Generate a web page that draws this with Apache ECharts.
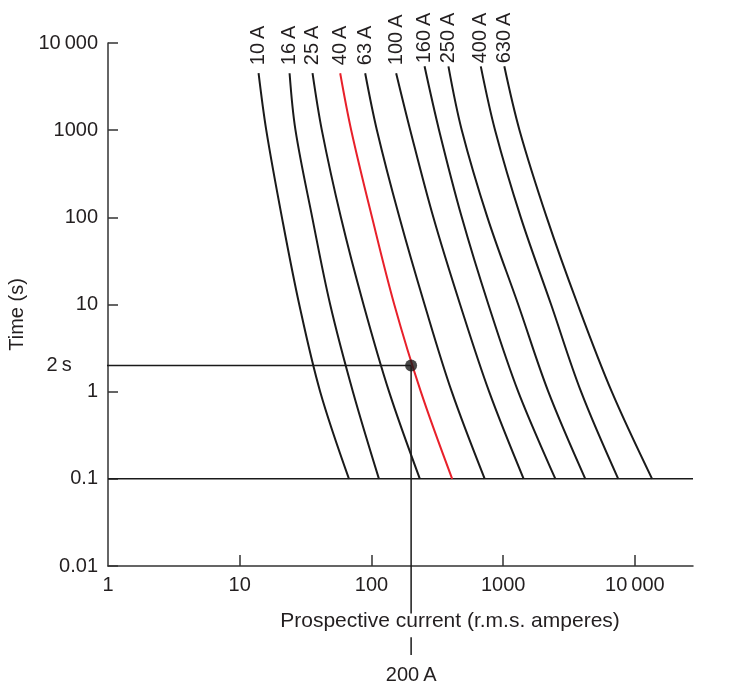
<!DOCTYPE html>
<html>
<head>
<meta charset="utf-8">
<script src="https://cdn.jsdelivr.net/npm/echarts@6/dist/echarts.min.js"></script>
<style>
  html, body { margin: 0; padding: 0; background: #fff; }
  #chart { width: 756px; height: 683px; }
</style>
</head>
<body>
<div id="chart"></div>
<script>
// fuse ratings and where each curve starts at the top (seconds)
const ratings = ["10 A", "16 A", "25 A", "40 A", "63 A", "100 A", "160 A", "250 A", "400 A", "630 A"];
const startTimes = [4500, 4500, 4500, 4500, 4500, 4500, 5400, 5400, 5400, 5400];
// times read below the start point, same for every curve
const levelTimes = [1000, 100, 10, 1, 0.1];
// prospective current (A) at start time, then at each level time
const currents = [
    [13.9, 15.9, 20.9, 28.3, 40.8, 67.5],
    [23.9, 26.5, 35.5, 48.6, 72.3, 114],
    [35.7, 42.0, 58.6, 87.0, 136, 233],
    [57.9, 70.2, 101, 149, 237, 410],
    [89.6, 110, 163, 253, 407, 724],
    [154, 197, 295, 471, 782, 1430],
    [253, 326, 485, 772, 1300, 2490],
    [384, 485, 759, 1300, 2200, 4200],
    [676, 868, 1360, 2310, 3900, 7470],
    [1020, 1330, 2140, 3680, 6670, 13500],
];
const highlighted = "40 A";

// axis ranges and tick labels
const xMin = 1, xMax = 27600;
const yMin = 0.01, yMax = 10000;
const xTickValues = [10, 100, 1000, 10000];
const xLabelValues = [1, 10, 100, 1000, 10000];

// worked example: 200 A clears the 40 A fuse in 2 s
const exCurrent = 200, exTime = 2;
const exLineStart = 0.62;          // current where the 2 s line starts (left of axis)
const exDropGapTop = 0.00286;      // vertical line breaks round the axis title
const exDropGapBottom = 0.00152;
const exDropEnd = 0.00095;

const fontFamily = "'Liberation Sans', Arial, sans-serif";
const textColor = "#231f20";
const axisColor = "#333";

const fmtNum = (v) => {
    if (v >= 10000) return String(v).replace(/(\d)(\d{3})$/, "$1\u2009$2");
    return String(v);
};

let dom = document.getElementById("chart");
let myChart = echarts.init(dom, null, { renderer: "canvas" });

let series = ratings.map((name, i) => {
    let times = [startTimes[i]].concat(levelTimes);
    let data = currents[i].map((c, j) => {
        let item = { value: [c, times[j]] };
        if (j === 0) {
            item.label = {
                show: true,
                formatter: name.replace(" ", "\u2009"),
                position: "top",
                distance: startTimes[i] > 5000 ? 3 : 8,
                rotate: 90,
                align: "left",
                verticalAlign: "middle",
                fontSize: 20,
                fontFamily: fontFamily,
                color: textColor,
            };
        }
        return item;
    });
    return {
        name: name,
        type: "line",
        smooth: 0.35,
        symbol: "circle",
        symbolSize: 0,
        showSymbol: true,
        itemStyle: { color: name === highlighted ? "#e8202a" : "#1a1a1a" },
        lineStyle: { width: 2, color: name === highlighted ? "#e8202a" : "#1a1a1a" },
        data: data,
        z: 3,
    };
});

// 0.1 s reference line across the chart
series.push({
    type: "line",
    symbol: "none",
    lineStyle: { width: 1.5, color: "#1a1a1a" },
    data: [[xMin, 0.1], [xMax, 0.1]],
    z: 2,
});

// 2 s horizontal line with its label
series.push({
    type: "line",
    clip: false,
    symbol: "circle",
    symbolSize: 0,
    lineStyle: { width: 1.5, color: "#1a1a1a" },
    data: [
        {
            value: [exLineStart, exTime],
            label: {
                show: true,
                formatter: "2\u2009s",
                position: "left",
                distance: 9,
                fontSize: 20,
                fontFamily: fontFamily,
                color: textColor,
            },
        },
        { value: [exCurrent, exTime] },
    ],
    z: 2,
});

// 200 A drop line, broken round the axis title
series.push({
    type: "line",
    clip: false,
    symbol: "none",
    lineStyle: { width: 1.5, color: "#1a1a1a" },
    data: [[exCurrent, exTime], [exCurrent, exDropGapTop]],
    z: 2,
});
series.push({
    type: "line",
    clip: false,
    symbol: "circle",
    symbolSize: 0,
    lineStyle: { width: 1.5, color: "#1a1a1a" },
    data: [
        { value: [exCurrent, exDropGapBottom] },
        {
            value: [exCurrent, exDropEnd],
            label: {
                show: true,
                formatter: "200\u2009A",
                position: "bottom",
                distance: 10,
                fontSize: 20,
                fontFamily: fontFamily,
                color: textColor,
            },
        },
    ],
    z: 2,
});

// the dot
series.push({
    type: "scatter",
    symbolSize: 12,
    itemStyle: { color: "#1a1a1a" },
    data: [[exCurrent, exTime]],
    z: 5,
});

let option = {
    animation: false,
    backgroundColor: "#fff",
    textStyle: { fontFamily: fontFamily },
    grid: {
        left: 108,
        right: 63,
        top: 43,
        bottom: 117,
        containLabel: false,
        outerBoundsMode: "none",
    },
    xAxis: {
        type: "log",
        logBase: 10,
        min: xMin,
        max: xMax,
        name: "Prospective current (r.m.s. amperes)",
        nameLocation: "middle",
        nameGap: 45,
        nameTextStyle: {
            fontSize: 21,
            fontFamily: fontFamily,
            color: textColor,
            padding: [0, 0, 0, 99],
        },
        axisLine: { lineStyle: { color: axisColor, width: 1.5 } },
        axisTick: {
            inside: true,
            length: 11,
            customValues: xTickValues,
            lineStyle: { color: axisColor, width: 1.5 },
        },
        minorTick: { show: false },
        axisLabel: {
            customValues: xLabelValues,
            formatter: fmtNum,
            margin: 9,
            fontSize: 20,
            fontFamily: fontFamily,
            color: textColor,
        },
        splitLine: { show: false },
    },
    yAxis: {
        type: "log",
        logBase: 10,
        min: yMin,
        max: yMax,
        name: "Time (s)",
        nameLocation: "middle",
        nameGap: 80,
        nameTextStyle: {
            fontSize: 20,
            fontFamily: fontFamily,
            color: textColor,
            padding: [0, 20, 0, 0],
        },
        axisLine: { lineStyle: { color: axisColor, width: 1.5 } },
        axisTick: {
            inside: true,
            length: 10,
            lineStyle: { color: axisColor, width: 1.5 },
        },
        axisLabel: {
            formatter: fmtNum,
            margin: 10,
            fontSize: 20,
            fontFamily: fontFamily,
            color: textColor,
        },
        splitLine: { show: false },
    },
    series: series,
};

if (option && typeof option === "object") {
    myChart.setOption(option);
}

window.addEventListener("resize", myChart.resize);
</script>
</body>
</html>
